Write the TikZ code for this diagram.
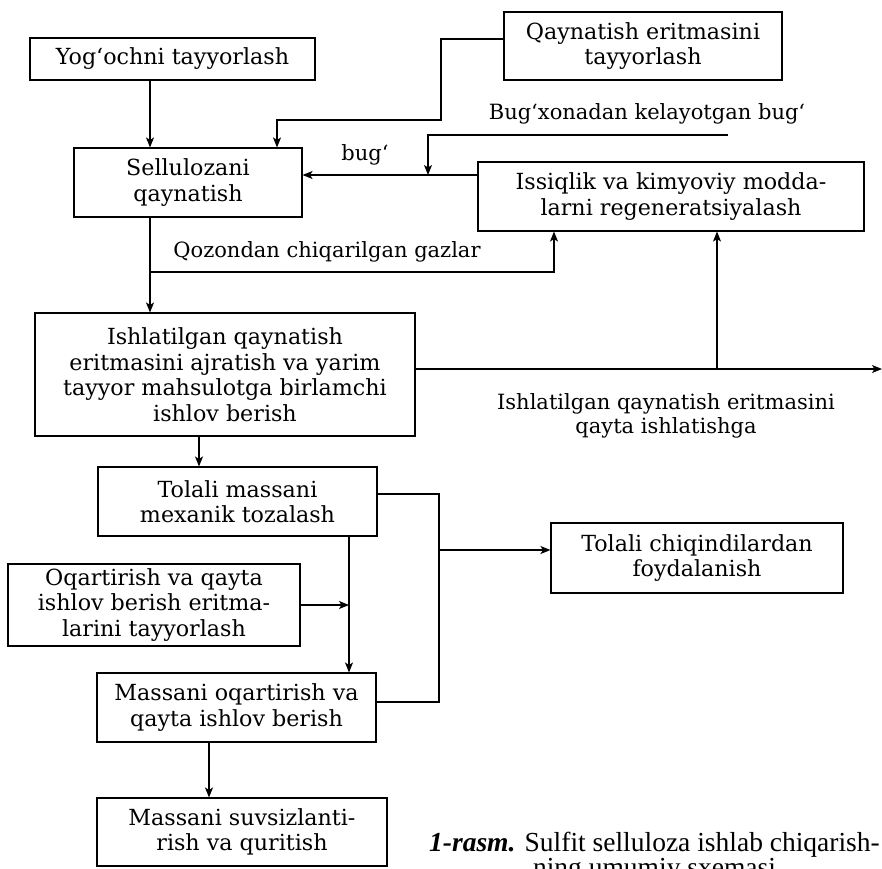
\documentclass[tikz,border=0pt]{standalone}
\usepackage{fontspec}
\setmainfont{DejaVu Serif}
\newfontfamily\capfont{Liberation Serif}
\usetikzlibrary{arrows.meta}
\tikzset{
  box/.style={draw, line width=1.1pt, align=center, inner sep=0pt,
    font=\fontsize{22.2}{25.5}\selectfont},
  lbl/.style={inner sep=0pt, align=center, font=\fontsize{21}{24}\selectfont},
  arr/.style={line width=1.1pt, -{Stealth[length=10pt,width=8pt,inset=2.5pt]}},
  ln/.style={line width=1.1pt}
}
\begin{document}
\begin{tikzpicture}[x=1pt,y=-1pt]
\useasboundingbox (0,0) rectangle (882,868);
% boxes
\node[box, minimum width=285pt, minimum height=42pt] (yog) at (172.5,59) {Yog‘ochni tayyorlash};
\node[box, minimum width=278pt, minimum height=68pt] (qay) at (643,46) {Qaynatish eritmasini\\tayyorlash};
\node[box, minimum width=228pt, minimum height=69pt] (sel) at (188,182.5) {Sellulozani\\qaynatish};
\node[box, minimum width=386pt, minimum height=69pt] (iss) at (671,196.5) {Issiqlik va kimyoviy modda-\\larni regeneratsiyalash};
\node[box, minimum width=380pt, minimum height=123pt] (ish) at (225,374.5) {Ishlatilgan qaynatish\\eritmasini ajratish va yarim\\tayyor mahsulotga birlamchi\\ishlov berish};
\node[box, minimum width=279pt, minimum height=69pt] (tol) at (237.5,501.5) {Tolali massani\\mexanik tozalash};
\node[box, minimum width=292pt, minimum height=82pt] (oqa) at (154,605) {Oqartirish va qayta\\ishlov berish eritma-\\larini tayyorlash};
\node[box, minimum width=279pt, minimum height=69pt] (mso) at (236.5,707.5) {Massani oqartirish va\\qayta ishlov berish};
\node[box, minimum width=290pt, minimum height=68pt] (msu) at (242,832) {Massani suvsizlanti-\\rish va quritish};
\node[box, minimum width=292pt, minimum height=70pt] (tch) at (697,558) {Tolali chiqindilardan\\foydalanish};
% labels
\node[lbl, anchor=base] (lbug) at (365,160) {bug‘};
\node[lbl, anchor=base] (lbx) at (647,119) {Bug‘xonadan kelayotgan bug‘};
\node[lbl, anchor=base] (lqoz) at (327,257) {Qozondan chiqarilgan gazlar};
\node[lbl, anchor=base] (lis1) at (666,409) {Ishlatilgan qaynatish eritmasini};
\node[lbl, anchor=base] (lis2) at (666,433) {qayta ishlatishga};
% caption (second line is cut by the lower edge, as in the reference)
\node[inner sep=0pt, anchor=north, align=center,
      font=\capfont\fontsize{27.5}{25}\selectfont] (cap) at (654.5,832)
  {{\bfseries\itshape 1-rasm.} Sulfit selluloza ishlab chiqarish-\\ning umumiy sxemasi};
% helper coordinates
\coordinate (xA) at (150,0);
\coordinate (xB) at (277,0);
\coordinate (xC) at (428,0);
\coordinate (xD) at (554,0);
\coordinate (xE) at (717,0);
\coordinate (xF) at (199,0);
\coordinate (xG) at (349,0);
\coordinate (xH) at (439,0);
\coordinate (xI) at (209,0);
\coordinate (yQ) at (0,39);
\coordinate (b1) at (441,120);
\coordinate (yS) at (0,175);
\coordinate (s0) at (728,135);
\coordinate (yG) at (0,272);
\coordinate (yL) at (0,369);
\coordinate (out) at (882,369);
\coordinate (yT) at (0,494);
\coordinate (yM) at (0,702);
\coordinate (yW) at (0,550);
% connectors
\draw[arr] (yog.south -| xA) -- (sel.north -| xA);
\draw[arr] (qay.west |- yQ) -| (b1) -| (sel.north -| xB);
\draw[arr] (iss.west |- yS) -- (sel.east |- yS);
\draw[arr] (s0) -| (xC |- yS);
\draw[arr] (sel.south -| xA) -- (ish.north -| xA);
\draw[arr] (xA |- yG) -| (iss.south -| xD);
\draw[arr] (ish.east |- yL) -- (out);
\draw[arr] (xE |- yL) -- (iss.south -| xE);
\draw[arr] (ish.south -| xF) -- (tol.north -| xF);
\draw[arr] (tol.south -| xG) -- (mso.north -| xG);
\draw[arr] (oqa.east) -- (oqa.east -| xG);
\draw[ln] (tol.east |- yT) -| (xH |- yM) -- (mso.east |- yM);
\draw[arr] (xH |- yW) -- (tch.west |- yW);
\draw[arr] (mso.south -| xI) -- (msu.north -| xI);
\end{tikzpicture}
\end{document}
